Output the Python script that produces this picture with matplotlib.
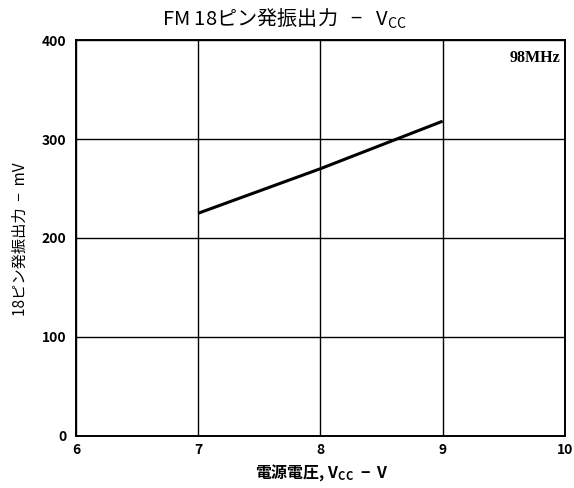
import matplotlib
matplotlib.use("Agg")
import matplotlib.pyplot as plt

plt.rcParams['font.family'] = ['Noto Sans CJK JP', 'DejaVu Sans']

# Supply voltage (V) and pin-18 oscillator output (mV)
vcc = [7, 8, 9]
output_mv = [225, 270, 318]

x_ticks = [6, 7, 8, 9, 10]
y_ticks = [0, 100, 200, 300, 400]

fig = plt.figure(figsize=(5.74, 4.88), dpi=100)
ax = fig.add_axes([0.1324, 0.1066, 0.8516, 0.8114])

ax.plot(vcc, output_mv, color='black', linewidth=2.2, solid_capstyle='butt')

ax.set_xlim(6, 10)
ax.set_ylim(0, 400)
ax.set_xticks(x_ticks)
ax.set_yticks(y_ticks)
ax.grid(True, color='black', linewidth=1.0)
ax.tick_params(axis='x', length=0, labelsize=10, pad=5)
ax.tick_params(axis='y', length=0, labelsize=10, pad=7)
for lab in ax.get_xticklabels() + ax.get_yticklabels():
    lab.set_fontweight('bold')
for sp in ax.spines.values():
    sp.set_linewidth(1.4)
    sp.set_color('black')

ax.text(0.99, 0.975, '98MHz', transform=ax.transAxes, ha='right', va='top',
        fontsize=11.5, family=['Liberation Serif', 'DejaVu Serif'], fontweight='bold')

fig.text(0.495, 0.962, 'FM 18ピン発振出力   −   V$_{\\mathregular{CC}}$', ha='center', va='center',
         fontsize=14.5)
fig.text(0.56, 0.032, '電源電圧, V$_{\\mathregular{CC}}$  −  V', ha='center', va='center',
         fontsize=11.5, fontweight='bold')
fig.text(0.035, 0.51, '18ピン発振出力  −  mV', ha='center', va='center',
         rotation=90, fontsize=11)

fig.savefig('out.png', dpi=100)
